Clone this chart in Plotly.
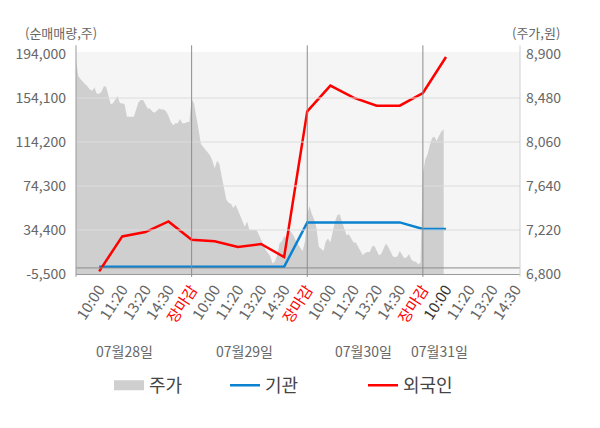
import plotly.graph_objects as go

FONT = "Noto Sans CJK KR"

# one x unit per provisional report; a trading day is 5 units wide (ends at 장마감)
days = ["07월28일", "07월29일", "07월30일", "07월31일"]
times = ["10:00", "11:20", "13:20", "14:30", "장마감"]

# net buying volume (shares), 07/28 10:00 ... 07/31 10:00
foreign = [-3100, 28600, 32500, 42200, 25600,
           24100, 19000, 21700, 9900, 142000,
           165300, 154400, 147100, 147100, 158600,
           191300]
institution = [1000, 1000, 1000, 1000, 1000,
               1000, 1000, 1000, 1000, 41300,
               41300, 41300, 41300, 41300, 35300,
               35300]

# intraday share price (won), sampled every 0.1 unit
price_0728 = [8840, 8690, 8660, 8630, 8610, 8590, 8560, 8550, 8580, 8520,
              8520, 8540, 8590, 8590, 8490, 8420, 8430, 8470, 8500, 8430,
              8430, 8420, 8300, 8300, 8300, 8300, 8370, 8440, 8460, 8460,
              8420, 8380, 8380, 8350, 8340, 8360, 8380, 8370, 8370, 8350,
              8310, 8250, 8220, 8240, 8240, 8280, 8240, 8240, 8250, 8250]
price_0729 = [8470, 8430, 8320, 8180, 8040, 8010, 7980, 7950, 7930, 7880,
              7810, 7880, 7850, 7730, 7600, 7510, 7480, 7470, 7430, 7460,
              7410, 7360, 7300, 7250, 7300, 7220, 7220, 7220, 7220, 7180,
              7130, 7080, 7030, 7000, 6970, 6900, 6920, 6980, 7090, 7110,
              7160, 7150, 7220, 7200, 7170, 7120, 7080, 7050, 7020, 7110]
price_0730 = [7370, 7450, 7370, 7320, 7240, 7060, 7040, 7020, 7110, 7140,
              7100, 7200, 7300, 7360, 7370, 7300, 7240, 7170, 7180, 7140,
              7100, 7100, 7060, 7010, 6980, 7000, 7010, 7010, 7060, 7070,
              7030, 6980, 6990, 7040, 7090, 7060, 7010, 6970, 6960, 6970,
              7020, 6990, 6950, 6960, 6990, 6940, 6920, 6920, 6890, 6910]
price_0731 = [7760, 7890, 7940, 8030, 8100, 8110, 8070, 8120, 8160, 8180]

vol_ticks = [-5500, 34400, 74300, 114200, 154100, 194000]
price_ticks = [6800, 7220, 7640, 8060, 8480, 8900]

STEP = 0.1
price_x, price_y = [], []
for d, day_prices in enumerate([price_0728, price_0729, price_0730, price_0731]):
    for i, p in enumerate(day_prices):
        price_x.append(d * 5 + i * STEP)
        price_y.append(p)

line_x = list(range(1, len(foreign) + 1))

X_MAX = 19.2
tick_vals, tick_text = [], []
for d in range(len(days)):
    for k, t in enumerate(times):
        pos = d * 5 + k + 1
        if pos > X_MAX:
            continue
        if t == "장마감":
            t = "<span style='color:#ff0000'>" + t + "</span>"
        elif pos == len(foreign):
            t = "<span style='color:#333333'>" + t + "</span>"
        tick_vals.append(pos)
        tick_text.append(t)

fig = go.Figure()
fig.add_trace(go.Scatter(x=price_x, y=price_y, name="주가", mode="lines",
                         line=dict(width=0, color="#cfcfcf"), fill="tozeroy",
                         fillcolor="#cfcfcf", yaxis="y", showlegend=False))
# legend swatch for the price area (a block, as in the source chart)
fig.add_trace(go.Scatter(x=[None], y=[None], name="주가", mode="lines",
                         line=dict(width=13, color="#cfcfcf"), legend="legend"))
fig.add_trace(go.Scatter(x=line_x, y=institution, name="기관", mode="lines",
                         line=dict(width=2.5, color="#0a82d0"), yaxis="y2",
                         legend="legend2"))
fig.add_trace(go.Scatter(x=line_x, y=foreign, name="외국인", mode="lines",
                         line=dict(width=2.5, color="#ff0000"), yaxis="y2",
                         legend="legend3"))

# grid and zero line sit on top of the price area
for v in vol_ticks[1:-1]:
    fig.add_hline(y=v, yref="y2", line=dict(color="#dcdcdc", width=1), layer="above")
fig.add_hline(y=0, yref="y2", line=dict(color="#8c8c8c", width=1), layer="above")
for d in range(1, len(days)):
    fig.add_shape(type="line", xref="x", yref="paper", x0=d * 5, x1=d * 5,
                  y0=-0.013, y1=1.03, line=dict(color="#8c8c8c", width=1), layer="above")
fig.add_shape(type="line", xref="paper", yref="paper", x0=0, x1=0, y0=-0.013, y1=1.03,
              line=dict(color="#999999", width=1), layer="above")
fig.add_shape(type="line", xref="paper", yref="paper", x0=1, x1=1, y0=-0.013, y1=1.03,
              line=dict(color="#d0d0d0", width=1), layer="above")

fig.add_annotation(text="(순매매량,주)", xref="paper", yref="paper", x=-0.034, y=1.086,
                   xanchor="center", yanchor="middle", showarrow=False,
                   font=dict(size=13, color="#666666"))
fig.add_annotation(text="(주가,원)", xref="paper", yref="paper", x=1.035, y=1.086,
                   xanchor="center", yanchor="middle", showarrow=False,
                   font=dict(size=13, color="#666666"))
for d, pos in zip(days, [2.1, 7.3, 12.45, 15.72]):
    fig.add_annotation(text=d, xref="x", yref="paper", x=pos, y=-0.349,
                       xanchor="center", yanchor="middle", showarrow=False,
                       font=dict(size=14, color="#666666"))

legend_style = dict(orientation="h", yref="paper", y=-0.503, yanchor="middle",
                    xanchor="left", bgcolor="rgba(0,0,0,0)",
                    font=dict(size=18, color="#444444", family=FONT))

# the page adds an 8px body margin, so the figure is 8px smaller each way
fig.update_layout(
    width=592, height=420,
    margin=dict(l=68, r=80, t=44, b=154, autoexpand=False),
    paper_bgcolor="white", plot_bgcolor="#f5f5f5",
    font=dict(family=FONT, size=14, color="#666666"),
    showlegend=True,
    legend=dict(x=0.0743, **legend_style),
    legend2=dict(x=0.3356, **legend_style),
    legend3=dict(x=0.6464, **legend_style),
    xaxis=dict(range=[0, X_MAX], tickmode="array", tickvals=tick_vals, ticktext=tick_text,
               tickangle=-57, showgrid=False, zeroline=False, showline=True,
               linecolor="#999999", ticks="", automargin=False,
               tickfont=dict(size=15, color="#666666")),
    yaxis=dict(range=[6800, 8919], tickmode="array", tickvals=price_ticks,
               ticktext=[f"{v:,}" for v in price_ticks], side="right",
               tickfont=dict(size=14), showgrid=False, zeroline=False,
               ticklabelstandoff=5, automargin=False),
    yaxis2=dict(range=[-5500, 195810], tickmode="array", tickvals=vol_ticks,
                ticktext=[f"{v:,}" for v in vol_ticks], side="left", overlaying="y",
                tickfont=dict(size=14), showgrid=False, zeroline=False,
                ticklabelstandoff=9, automargin=False),
)

fig.write_html("out.html")
